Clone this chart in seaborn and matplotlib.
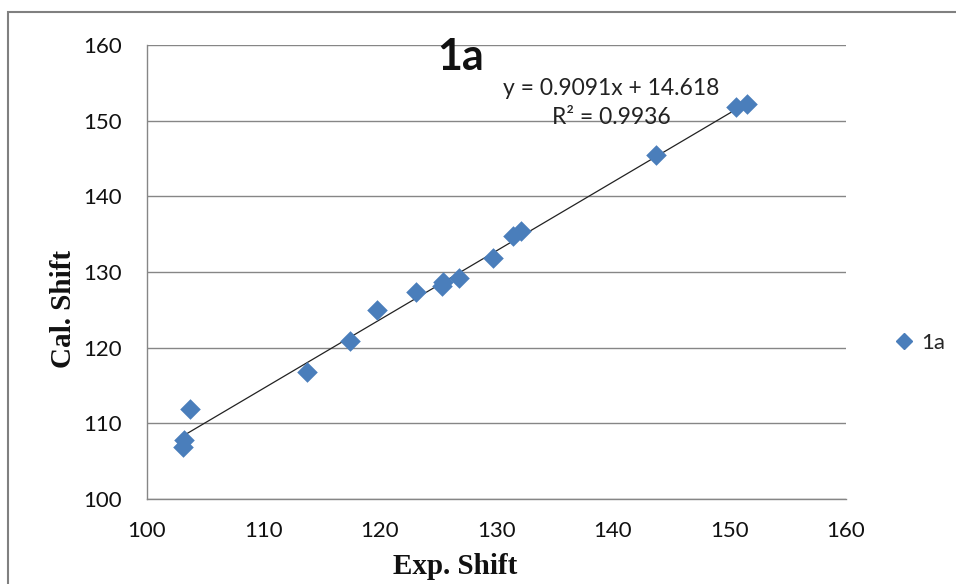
import matplotlib
matplotlib.use("Agg")
import matplotlib.pyplot as plt
from matplotlib.patches import Rectangle
from matplotlib.lines import Line2D
import numpy as np
import pandas as pd
import seaborn as sns

# Experimental vs calculated chemical shifts for compound 1a
exp_shift = [103.1, 103.2, 103.7, 113.7, 117.4, 119.7, 123.1, 125.3, 125.4,
             126.8, 129.7, 131.4, 132.1, 143.7, 150.6, 151.5]
cal_shift = [106.9, 107.8, 111.9, 116.8, 120.9, 125.0, 127.3, 128.1, 128.7,
             129.2, 131.8, 134.7, 135.4, 145.4, 151.8, 152.2]

# Linear trendline coefficients
slope = 0.9091
intercept = 14.618
r_squared = 0.9936

series_name = "1a"
x_ticks = [100, 110, 120, 130, 140, 150, 160]
y_ticks = [100, 110, 120, 130, 140, 150, 160]

df = pd.DataFrame({"Exp. Shift": exp_shift, "Cal. Shift": cal_shift})
x_fit = np.array([min(exp_shift), max(exp_shift)])
fit_df = pd.DataFrame({"x": x_fit, "y": slope * x_fit + intercept})

sns.set_theme(style="white")
plt.rcParams["font.family"] = ["Lato", "DejaVu Sans"]

blue = "#4A7EBB"
grid_gray = "#868686"
W, H = 956, 584

fig = plt.figure(figsize=(9.56, 5.84), dpi=100)
ax = fig.add_axes([147 / W, 1 - 499 / H, (846 - 147) / W, (499 - 45) / H])

# Chart frame (top and left edges visible)
fig.patches.append(Rectangle((8 / W, -0.1), 1.2, 1 - 12 / H + 0.1,
                             transform=fig.transFigure, fill=False,
                             edgecolor="#808080", linewidth=1.5, zorder=0))

sns.lineplot(data=fit_df, x="x", y="y", ax=ax, color="#222222",
             linewidth=0.9, zorder=2)
sns.scatterplot(data=df, x="Exp. Shift", y="Cal. Shift", ax=ax, marker="D",
                s=110, color=blue, edgecolor=blue, linewidth=0, zorder=3)

ax.set_xlim(100, 160)
ax.set_ylim(100, 160)
ax.set_xticks(x_ticks)
ax.set_yticks(y_ticks)
ax.grid(axis="y", color=grid_gray, linewidth=1.0)
ax.set_axisbelow(True)
for side in ("top", "right"):
    ax.spines[side].set_visible(False)
for side in ("left", "bottom"):
    ax.spines[side].set_color(grid_gray)
    ax.spines[side].set_linewidth(1.0)
ax.tick_params(axis="both", direction="out", length=6, width=1.0,
               color=grid_gray, labelsize=16, labelcolor="#111111")
ax.tick_params(axis="x", pad=10)
ax.tick_params(axis="y", pad=12)

serif = ["Liberation Serif", "DejaVu Serif"]
ax.set_xlabel("")
ax.set_ylabel("")
fig.text(455 / W, 1 - 567 / H, "Exp. Shift", family=serif, fontweight="bold",
         fontsize=21, color="#111111", ha="center", va="center")
fig.text(64 / W, 1 - 309 / H, "Cal. Shift", family=serif, fontweight="bold",
         fontsize=21, color="#111111", ha="center", va="center",
         rotation=90)

ax.text(0.448, 0.974, series_name, transform=ax.transAxes, fontsize=31,
        fontweight="bold", ha="center", va="center", color="#111111")
ax.text(0.664, 0.905, f"y = {slope}x + {intercept}", transform=ax.transAxes,
        fontsize=16.5, ha="center", va="center", color="#222222")
ax.text(0.664, 0.841, f"R\u00b2 = {r_squared}", transform=ax.transAxes,
        fontsize=16.5, ha="center", va="center", color="#222222")

handle = Line2D([], [], marker="D", linestyle="none", markersize=8,
                markerfacecolor=blue, markeredgecolor=blue)
fig.legend([handle], [series_name], loc="center left",
           bbox_to_anchor=(886 / W, 1 - 343 / H), frameon=False,
           fontsize=16, handlelength=0.8, handletextpad=0.4,
           borderaxespad=0)

fig.savefig("out.png", dpi=100)
